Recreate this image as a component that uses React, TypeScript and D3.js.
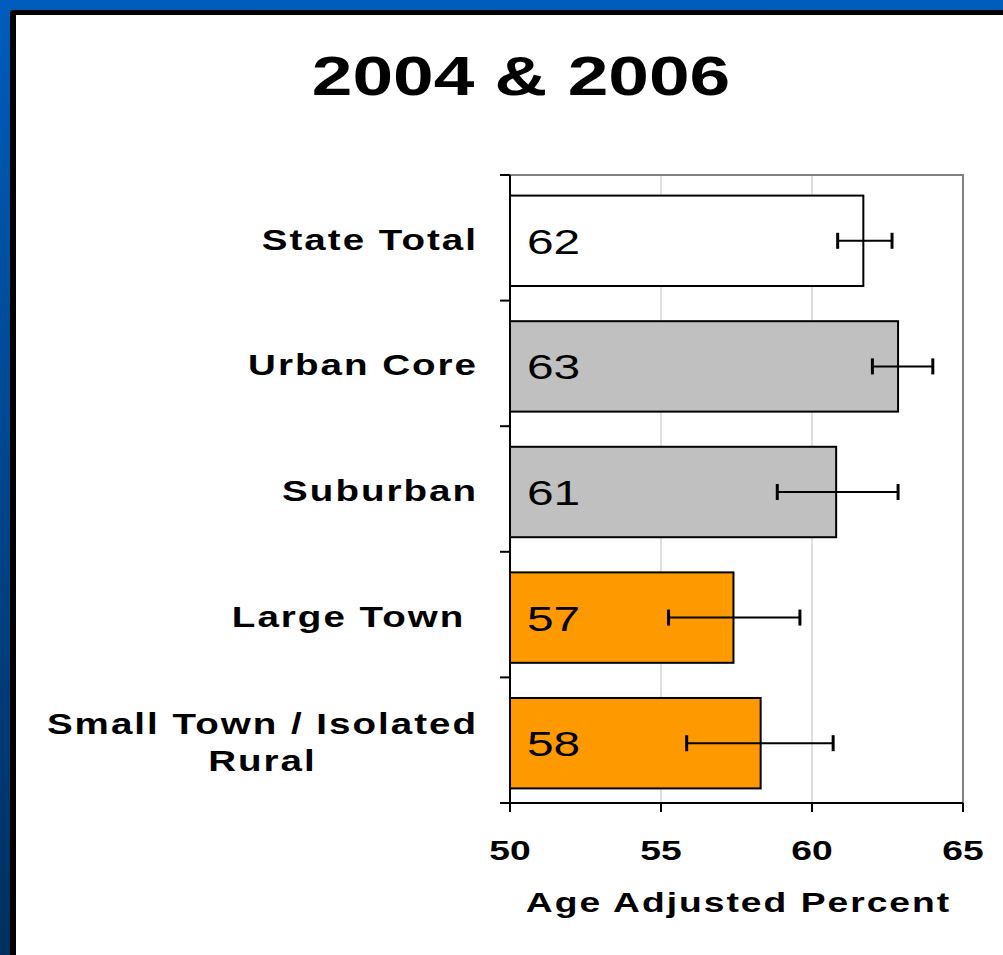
import { useEffect, useRef } from "react";
import * as d3 from "d3";

const categories = [
    ["State Total"],
    ["Urban Core"],
    ["Suburban"],
    ["Large Town "],
    ["Small Town / Isolated", "Rural"],
];
const groups = ["state", "metro", "metro", "rural", "rural"];
const values = [61.7, 62.85, 60.8, 57.4, 58.3];
const valueLabels = ["62", "63", "61", "57", "58"];
const lower = [60.85, 62.0, 58.85, 55.25, 55.85];
const upper = [62.65, 64.0, 62.85, 59.6, 60.7];
const xTicks = [50, 55, 60, 65];
const xDomain = [50, 65];

const FONT = "'Liberation Sans', Arial, sans-serif";
const SX = 1.33; // the original text is stretched wide

const App = () => {
    const chartRef = useRef<SVGSVGElement | null>(null);

    useEffect(() => {
        if (!chartRef.current) return;
        const svg = d3.select(chartRef.current);
        svg.selectAll("*").remove();

        const width = 1003;
        const height = 955;
        const plot = { left: 510, right: 963, top: 175, bottom: 803 };

        // frame
        const defs = svg.append("defs");
        const grad = defs
            .append("linearGradient")
            .attr("id", "frameGrad")
            .attr("x1", 0)
            .attr("y1", 0)
            .attr("x2", 0)
            .attr("y2", 1);
        grad.append("stop").attr("offset", "0%").attr("stop-color", "#005cbc");
        grad.append("stop").attr("offset", "100%").attr("stop-color", "#002f5e");

        svg.append("rect").attr("width", width).attr("height", height).attr("fill", "url(#frameGrad)");
        svg.append("rect")
            .attr("x", 10)
            .attr("y", 10)
            .attr("width", width)
            .attr("height", height)
            .attr("rx", 3)
            .attr("fill", "#000");
        svg.append("rect")
            .attr("x", 16)
            .attr("y", 15)
            .attr("width", width)
            .attr("height", height)
            .attr("fill", "#fff");

        const addText = (
            g: d3.Selection<any, unknown, null, undefined>,
            x: number,
            y: number,
            txt: string,
            size: number,
            weight: string,
            anchor: string,
            sx: number = SX,
            spacing: number = 0
        ) =>
            g
                .append("text")
                .attr("transform", `translate(${x},${y}) scale(${sx},1)`)
                .attr("font-family", FONT)
                .attr("font-size", size)
                .attr("font-weight", weight)
                .attr("text-anchor", anchor)
                .attr("letter-spacing", spacing)
                .style("white-space", "pre")
                .attr("fill", "#000")
                .text(txt);

        // title
        addText(svg, 521, 95, "2004 & 2006", 56, "bold", "middle", 1.305);

        const x = d3.scaleLinear().domain(xDomain).range([plot.left, plot.right]);
        const y = d3
            .scaleBand<number>()
            .domain(d3.range(categories.length))
            .range([plot.top, plot.bottom])
            .paddingInner(0.28)
            .paddingOuter(0.14);
        const color = d3
            .scaleOrdinal<string, string>()
            .domain(["state", "metro", "rural"])
            .range(["#ffffff", "#c0c0c0", "#ff9900"]);

        // gridlines
        svg.append("g")
            .selectAll("line")
            .data(xTicks.slice(1, -1))
            .enter()
            .append("line")
            .attr("x1", (d) => x(d))
            .attr("x2", (d) => x(d))
            .attr("y1", plot.top)
            .attr("y2", plot.bottom)
            .attr("stroke", "#c0c0c0")
            .attr("stroke-width", 1);

        // plot border (top/right)
        svg.append("path")
            .attr("d", `M${plot.left},${plot.top}H${plot.right}V${plot.bottom}`)
            .attr("fill", "none")
            .attr("stroke", "#808080")
            .attr("stroke-width", 2);

        // bars
        svg.append("g")
            .selectAll("rect")
            .data(values)
            .enter()
            .append("rect")
            .attr("x", x(xDomain[0]))
            .attr("y", (_, i) => y(i)! + 3)
            .attr("width", (d) => x(d) - x(xDomain[0]))
            .attr("height", y.bandwidth())
            .attr("fill", (_, i) => color(groups[i]))
            .attr("stroke", "#000")
            .attr("stroke-width", 2);

        // value labels
        const vl = svg.append("g");
        valueLabels.forEach((v, i) => {
            addText(vl, x(xDomain[0]) + 17, y(i)! + 3 + y.bandwidth() / 2 + 13, v, 36, "normal", "start");
        });

        // error bars
        const eb = svg.append("g").attr("stroke", "#000");
        values.forEach((_, i) => {
            const cy = y(i)! + 3 + y.bandwidth() / 2;
            eb.append("line")
                .attr("x1", x(lower[i]))
                .attr("x2", x(upper[i]))
                .attr("y1", cy)
                .attr("y2", cy)
                .attr("stroke-width", 2);
            [lower[i], upper[i]].forEach((e) => {
                eb.append("line")
                    .attr("x1", x(e))
                    .attr("x2", x(e))
                    .attr("y1", cy - 8)
                    .attr("y2", cy + 8)
                    .attr("stroke-width", 3);
            });
        });

        // y axis
        const step = y.step();
        const yAxis = svg.append("g").attr("stroke", "#000").attr("stroke-width", 2);
        yAxis.append("line")
            .attr("x1", plot.left)
            .attr("x2", plot.left)
            .attr("y1", plot.top)
            .attr("y2", plot.bottom + 9);
        d3.range(categories.length + 1).forEach((k) => {
            const ty = plot.top + k * step;
            yAxis.append("line")
                .attr("x1", plot.left - 10)
                .attr("x2", plot.left)
                .attr("y1", ty)
                .attr("y2", ty);
        });

        // x axis
        const xAxis = svg.append("g").attr("stroke", "#000").attr("stroke-width", 2);
        xAxis.append("line")
            .attr("x1", plot.left - 10)
            .attr("x2", plot.right)
            .attr("y1", plot.bottom)
            .attr("y2", plot.bottom);
        xTicks.forEach((t) => {
            xAxis.append("line")
                .attr("x1", x(t))
                .attr("x2", x(t))
                .attr("y1", plot.bottom)
                .attr("y2", plot.bottom + 9);
        });
        const xl = svg.append("g");
        xTicks.forEach((t) => addText(xl, x(t), 860, String(t), 28, "bold", "middle"));
        addText(svg, (plot.left + plot.right) / 2 + 2, 912, "Age Adjusted Percent", 28, "bold", "middle", SX, 1.5);

        // category labels, right aligned, lines centred on each other
        const cl = svg.append("g");
        const lineH = 37;
        categories.forEach((lines, i) => {
            const cy = y(i)! + y.bandwidth() / 2 + 1;
            const texts = lines.map((ln) => addText(cl, 0, 0, ln, 29, "bold", "middle", SX, 1.5));
            const maxW = d3.max(texts, (t) => (t.node() as SVGTextElement).getComputedTextLength() * SX)!;
            const cx = 478 - maxW / 2;
            const y0 = cy + 11 - ((lines.length - 1) * lineH) / 2;
            texts.forEach((t, j) => t.attr("transform", `translate(${cx},${y0 + j * lineH}) scale(${SX},1)`));
        });
    }, []);

    return (
        <div style={{ position: "absolute", left: 0, top: 0 }}>
            <svg ref={chartRef} width={1003} height={955} style={{ display: "block" }}></svg>
        </div>
    );
};

export default App;
